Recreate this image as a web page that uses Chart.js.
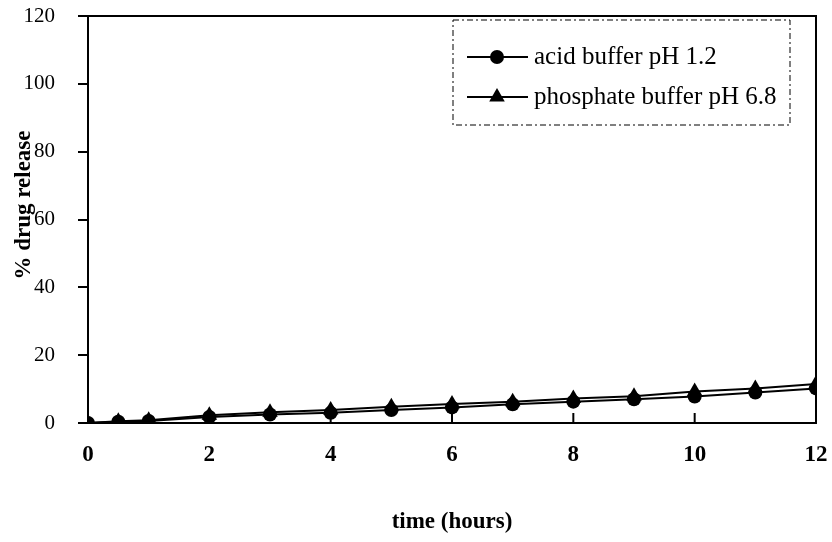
<!DOCTYPE html>
<html><head><meta charset="utf-8">
<script src="https://cdn.jsdelivr.net/npm/chart.js@4.4.0/dist/chart.umd.min.js"></script>
<style>html,body{margin:0;padding:0;background:#fff}#wrap{width:832px;height:542px}</style>
</head><body><div id="wrap"><canvas id="c" width="832" height="542"></canvas></div>
<script>
const timeHours = [0, 0.5, 1, 2, 3, 4, 5, 6, 7, 8, 9, 10, 11, 12];
const acidBuffer = [0, 0.4, 0.6, 1.8, 2.5, 3.0, 3.8, 4.6, 5.5, 6.3, 7.0, 7.8, 9.0, 10.2];
const phosphateBuffer = [0, 0.5, 0.8, 2.3, 3.2, 3.8, 4.8, 5.6, 6.3, 7.2, 7.9, 9.3, 10.2, 11.5];
const seriesLabels = ['acid buffer pH 1.2', 'phosphate buffer pH 6.8'];
const seriesMarkers = ['circle', 'triangle'];
const xTicks = [0, 2, 4, 6, 8, 10, 12];
const yTicks = [0, 20, 40, 60, 80, 100, 120];
const xTitle = 'time (hours)';
const yTitle = '% drug release';

const SERIF = '"Liberation Serif", "DejaVu Serif", serif';

function drawMarker(ctx, style, x, y) {
  ctx.beginPath();
  if (style === 'circle') {
    ctx.arc(x, y, 7, 0, Math.PI * 2);
  } else {
    const r = 9;
    ctx.moveTo(x, y - r);
    ctx.lineTo(x + r * 0.866, y + r * 0.5);
    ctx.lineTo(x - r * 0.866, y + r * 0.5);
    ctx.closePath();
  }
  ctx.fillStyle = '#000';
  ctx.fill();
}

const framePlugin = {
  id: 'frame',
  afterDraw(chart) {
    const ctx = chart.ctx, a = chart.chartArea;
    ctx.save();
    ctx.strokeStyle = '#000';
    ctx.lineWidth = 2;
    ctx.strokeRect(a.left, a.top, a.right - a.left, a.bottom - a.top);
    // inward x ticks
    const xs = chart.scales.x;
    xTicks.forEach(v => {
      const px = xs.getPixelForValue(v);
      ctx.beginPath();
      ctx.moveTo(px, a.bottom);
      ctx.lineTo(px, a.bottom - 10);
      ctx.stroke();
    });
    // y title
    ctx.save();
    ctx.translate(30, 205);
    ctx.rotate(-Math.PI / 2);
    ctx.font = 'bold 23px ' + SERIF;
    ctx.fillStyle = '#000';
    ctx.textAlign = 'center';
    ctx.textBaseline = 'alphabetic';
    ctx.fillText(yTitle, 0, 0);
    ctx.restore();
    // legend
    const bx = 453, by = 20, bw = 337, bh = 105;
    ctx.lineWidth = 1;
    ctx.setLineDash([6, 3, 2, 3]);
    ctx.strokeRect(bx, by, bw, bh);
    ctx.setLineDash([]);
    chart.data.datasets.forEach((ds, i) => {
      const y = by + 37 + i * 40;
      ctx.lineWidth = 2;
      ctx.beginPath();
      ctx.moveTo(467, y);
      ctx.lineTo(528, y);
      ctx.stroke();
      drawMarker(ctx, seriesMarkers[i], 497, y);
      ctx.fillStyle = '#000';
      ctx.font = '25px ' + SERIF;
      ctx.textAlign = 'left';
      ctx.textBaseline = 'middle';
      ctx.fillText(ds.label, 534, y);
    });
    ctx.restore();
  }
};

const datasets = [acidBuffer, phosphateBuffer].map((vals, i) => ({
  label: seriesLabels[i],
  data: timeHours.map((t, k) => ({ x: t, y: vals[k] })),
  borderColor: '#000',
  backgroundColor: '#000',
  borderWidth: 2,
  pointStyle: seriesMarkers[i],
  pointRadius: seriesMarkers[i] === 'circle' ? 7 : 9,
  pointBorderWidth: 0,
  tension: 0
}));

new Chart(document.getElementById('c'), {
  type: 'line',
  data: { datasets },
  plugins: [framePlugin],
  options: {
    responsive: false,
    animation: false,
    devicePixelRatio: 1,
    layout: { padding: { left: 0, right: 16, top: 16, bottom: 0 } },
    plugins: { legend: { display: false }, tooltip: { enabled: false } },
    scales: {
      x: {
        type: 'linear', min: 0, max: 12,
        afterBuildTicks: s => { s.ticks = xTicks.map(v => ({ value: v })); },
        afterFit: s => { s.height = 119; s.paddingLeft = 0; s.paddingRight = 0; },
        grid: { display: false, drawTicks: false },
        border: { display: true, color: '#000', width: 2 },
        ticks: { color: '#000', padding: 18, maxRotation: 0, font: { family: SERIF, size: 23, weight: 'bold' } },
        title: { display: true, text: xTitle, color: '#000', padding: { top: 0, bottom: 6 }, font: { family: SERIF, size: 23, weight: 'bold' } }
      },
      y: {
        type: 'linear', min: 0, max: 120,
        afterBuildTicks: s => { s.ticks = yTicks.map(v => ({ value: v })); },
        afterFit: s => { s.width = 88; s.paddingTop = 0; s.paddingBottom = 0; },
        grid: { display: true, drawOnChartArea: false, drawTicks: true, tickLength: 10, color: '#000', lineWidth: 2 },
        border: { display: true, color: '#000', width: 2 },
        ticks: { color: '#000', padding: 23, font: { family: SERIF, size: 21 } },
        title: { display: false }
      }
    }
  }
});
</script></body></html>
